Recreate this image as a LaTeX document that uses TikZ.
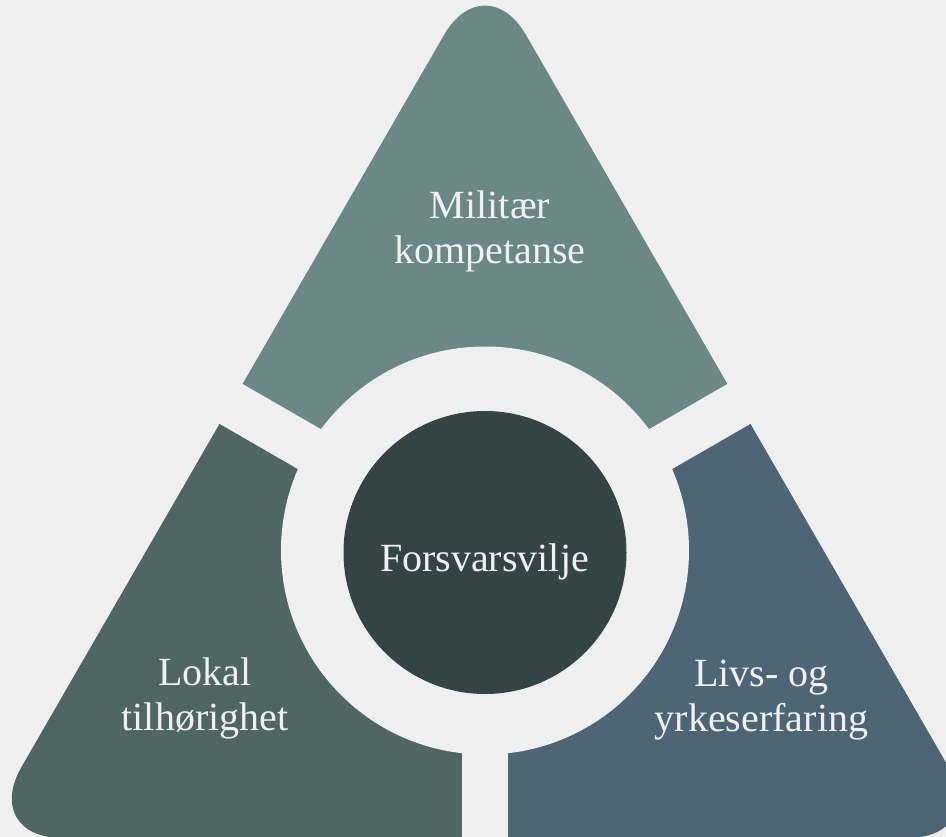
\documentclass[tikz,border=0pt]{standalone}
\usepackage{fontspec}
\setmainfont{Liberation Serif}
\definecolor{bgc}{HTML}{EFEFEF}
\definecolor{topc}{HTML}{6B8886}
\definecolor{leftc}{HTML}{506663}
\definecolor{rightc}{HTML}{4E6575}
\definecolor{centc}{HTML}{354545}
\definecolor{txtc}{HTML}{F0F0F0}
\begin{document}
\begin{tikzpicture}[x=1pt,y=-1pt,
  lbl/.style={text=txtc, font=\fontsize{40}{45}\selectfont, align=center, inner sep=0pt, anchor=base},
  tri/.style={rounded corners=82pt},
  gap/.style={draw=bgc, line width=46pt}]
\useasboundingbox (0,0) rectangle (946,837);
\fill[bgc] (0,0) rectangle (946,837);
\coordinate (O) at (485,550.5);
\coordinate (C) at (485,552.5);
\begin{scope}
\clip (0,0) rectangle (946,837);
% top sector
\begin{scope}
\clip (O) -- (2217,-449.5) -- (2217,-2000) -- (-1247,-2000) -- (-1247,-449.5) -- cycle;
\fill[topc, tri] (485,-36) -- (-19.5,838) -- (989.5,838) -- cycle;
\end{scope}
% left sector
\begin{scope}
\clip (O) -- (-1247,-449.5) -- (-1247,3000) -- (485,3000) -- cycle;
\fill[leftc, tri] (485,-36) -- (-19.5,838) -- (989.5,838) -- cycle;
\end{scope}
% right sector
\begin{scope}
\clip (O) -- (485,3000) -- (2217,3000) -- (2217,-449.5) -- cycle;
\fill[rightc, tri] (485,-36) -- (-19.5,838) -- (989.5,838) -- cycle;
\end{scope}
% gaps
\coordinate (gl) at (-121.2,200.5);
\coordinate (gr) at (1091.2,200.5);
\coordinate (gd) at (485,1200);
\draw[gap] (O) -- (gl);
\draw[gap] (O) -- (gr);
\draw[gap] (O) -- (gd);
\fill[bgc] (O) circle[radius=204pt];
\fill[centc] (C) circle[radius=141.5pt];
\end{scope}
\node[lbl] (mil) at (490,264) {Militær\\kompetanse};
\node[lbl] (lok) at (205,730) {Lokal\\tilhørighet};
\node[lbl] (liv) at (761.5,731) {Livs- og\\yrkeserfaring};
\node[lbl] (fv) at (484.5,571) {Forsvarsvilje};
\end{tikzpicture}
\end{document}
